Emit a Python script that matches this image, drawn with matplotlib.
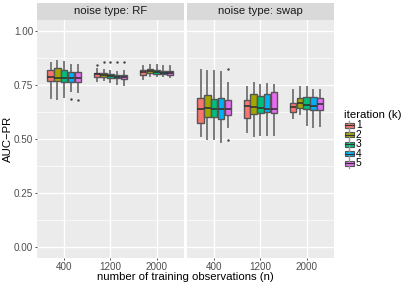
import matplotlib
matplotlib.use("Agg")
import matplotlib.pyplot as plt
from matplotlib.patches import Rectangle
from matplotlib.lines import Line2D

plt.rcParams['font.family'] = ['Liberation Sans', 'DejaVu Sans']

# categories
noise_types = ['RF', 'swap']
n_obs = ['400', '1200', '2000']
iterations = ['1', '2', '3', '4', '5']
colors = ['#F8766D', '#A3A500', '#00BF7D', '#00B0F6', '#E76BF3']

# box statistics, rows = n_obs, columns = iteration
rf_low = [[0.690, 0.687, 0.693, 0.721, 0.718],
          [0.770, 0.774, 0.765, 0.756, 0.750],
          [0.778, 0.790, 0.793, 0.792, 0.788]]
rf_q1 = [[0.767, 0.770, 0.765, 0.762, 0.762],
         [0.787, 0.785, 0.784, 0.784, 0.779],
         [0.797, 0.804, 0.801, 0.799, 0.795]]
rf_med = [[0.788, 0.784, 0.784, 0.784, 0.784],
          [0.799, 0.794, 0.790, 0.789, 0.786],
          [0.811, 0.813, 0.810, 0.807, 0.807]]
rf_q3 = [[0.819, 0.828, 0.819, 0.811, 0.811],
         [0.807, 0.804, 0.799, 0.797, 0.796],
         [0.820, 0.824, 0.819, 0.815, 0.815]]
rf_high = [[0.853, 0.862, 0.854, 0.844, 0.843],
           [0.825, 0.819, 0.816, 0.812, 0.813],
           [0.836, 0.840, 0.840, 0.839, 0.836]]
rf_out = [[[], [], [], [0.687], [0.682]],
          [[0.843], [0.856], [0.856], [0.854], [0.854]],
          [[], [], [], [], []]]

sw_low = [[0.514, 0.502, 0.502, 0.486, 0.555],
          [0.534, 0.514, 0.521, 0.518, 0.518],
          [0.597, 0.617, 0.567, 0.557, 0.560]]
sw_q1 = [[0.575, 0.601, 0.603, 0.595, 0.612],
         [0.598, 0.617, 0.621, 0.626, 0.621],
         [0.626, 0.644, 0.640, 0.636, 0.636]]
sw_med = [[0.640, 0.644, 0.640, 0.640, 0.640],
          [0.652, 0.649, 0.642, 0.641, 0.641],
          [0.649, 0.667, 0.658, 0.655, 0.662]]
sw_q3 = [[0.690, 0.704, 0.687, 0.692, 0.682],
         [0.679, 0.707, 0.698, 0.707, 0.716],
         [0.665, 0.692, 0.696, 0.695, 0.688]]
sw_high = [[0.817, 0.815, 0.815, 0.808, 0.759],
           [0.742, 0.759, 0.751, 0.753, 0.750],
           [0.728, 0.739, 0.739, 0.725, 0.728]]
sw_out = [[[], [], [], [], [0.822, 0.497]],
          [[], [], [], [], []],
          [[], [], [], [], []]]

panels = {
    'RF': (rf_low, rf_q1, rf_med, rf_q3, rf_high, rf_out),
    'swap': (sw_low, sw_q1, sw_med, sw_q3, sw_high, sw_out),
}

W, H = 407, 285
fig = plt.figure(figsize=(W / 100, H / 100), dpi=100)

panel_left = [36.7, 186.7]
panel_w = 147.5
p_top, p_bot = 20.0, 258.3
strip_top = 3.0

offsets = [-0.3, -0.15, 0.0, 0.15, 0.3]
edge = '#555555'

for k, nt in enumerate(noise_types):
    x0 = panel_left[k]
    ax = fig.add_axes([x0 / W, 1 - p_bot / H, panel_w / W, (p_bot - p_top) / H])
    ax.set_facecolor('#EBEBEB')
    for s in ax.spines.values():
        s.set_visible(False)
    low, q1, med, q3, high, out = panels[nt]
    stats, pos, cols = [], [], []
    for i in range(len(n_obs)):
        for j in range(len(iterations)):
            stats.append(dict(whislo=low[i][j], q1=q1[i][j], med=med[i][j],
                              q3=q3[i][j], whishi=high[i][j], fliers=out[i][j]))
            pos.append(i + 1 + offsets[j])
            cols.append(colors[j])
    bp = ax.bxp(stats, positions=pos, widths=0.135, patch_artist=True,
                showcaps=False, manage_ticks=False,
                boxprops=dict(edgecolor=edge, linewidth=1.0),
                whiskerprops=dict(color='#7a7a7a', linewidth=1.4),
                medianprops=dict(color='#333333', linewidth=1.2),
                flierprops=dict(marker='.', markersize=1.5, markerfacecolor='#444444',
                                markeredgecolor='#444444'))
    for patch, c in zip(bp['boxes'], cols):
        patch.set_facecolor(c)
        patch.set_zorder(3)
    for m in bp['medians']:
        m.set_zorder(4)

    ax.set_xlim(0.4, 3.6)
    ax.set_ylim(-0.05, 1.05)
    ax.set_xticks([1, 2, 3])
    ax.set_xticklabels(n_obs)
    ax.set_yticks([0, 0.25, 0.5, 0.75, 1.0])
    ax.set_yticks([0.125, 0.375, 0.625, 0.875], minor=True)
    ax.grid(True, which='major', color='white', linewidth=1.0)
    ax.grid(True, which='minor', axis='y', color='white', linewidth=0.5)
    ax.set_axisbelow(True)
    ax.tick_params(axis='both', which='major', length=1.5, width=0.6, color='#333333',
                   labelsize=7.1, labelcolor='#4D4D4D', pad=1.0)
    ax.tick_params(axis='both', which='minor', length=0)
    if k == 0:
        ax.set_yticklabels(['0.00', '0.25', '0.50', '0.75', '1.00'])
    else:
        ax.tick_params(axis='y', which='major', length=0, labelleft=False)

    # strip
    sax = fig.add_axes([x0 / W, 1 - p_top / H, panel_w / W, (p_top - strip_top) / H])
    sax.set_facecolor('#D9D9D9')
    sax.set_xticks([])
    sax.set_yticks([])
    for s in sax.spines.values():
        s.set_visible(False)
    sax.text(0.5, 0.5, 'noise type: ' + nt, ha='center', va='center',
             fontsize=8.2, color='#1A1A1A', transform=sax.transAxes)

fig.text(7.5 / W, 1 - 139 / H, 'AUC\u2212PR', rotation=90, ha='center', va='center',
         fontsize=8.2)
fig.text(185.5 / W, 1 - 276.5 / H, 'number of training observations (n)',
         ha='center', va='center', fontsize=8.2)

# legend, drawn by hand to get ggplot's compact key spacing
fig.text(343.5 / W, 1 - 115 / H, 'iteration (k)', ha='left', va='center', fontsize=8.2)
key_x, key_w, key_h = 344.5, 9.0, 5.0
for j, (lab, c) in enumerate(zip(iterations, colors)):
    yc = 125.0 + j * 9.6
    fig.add_artist(Line2D([(key_x + key_w / 2) / W] * 2,
                          [1 - (yc - 4.5) / H, 1 - (yc + 4.5) / H],
                          transform=fig.transFigure, color='#9a9a9a', linewidth=1.0))
    fig.add_artist(Rectangle((key_x / W, 1 - (yc + key_h / 2) / H), key_w / W, key_h / H,
                             transform=fig.transFigure, facecolor=c, edgecolor=edge,
                             linewidth=0.8))
    fig.add_artist(Line2D([key_x / W, (key_x + key_w) / W], [1 - yc / H] * 2,
                          transform=fig.transFigure, color='#333333', linewidth=0.8))
    fig.text(356 / W, 1 - yc / H, lab, ha='left', va='center', fontsize=7.4)

fig.savefig('out.png', dpi=100)
